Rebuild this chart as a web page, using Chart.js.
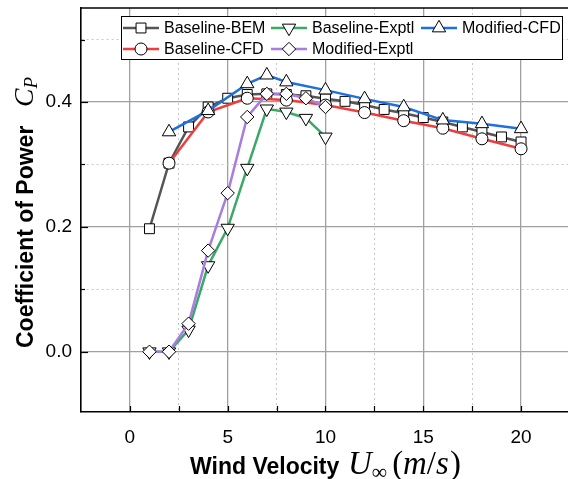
<!DOCTYPE html>
<html>
<head>
<meta charset="utf-8">
<script src="https://cdn.jsdelivr.net/npm/chart.js@4.4.0/dist/chart.umd.min.js"></script>
<style>
  body { margin: 0; background: #fff; }
  #wrap { width: 568px; height: 479px; }
</style>
</head>
<body>
<div id="wrap"><canvas id="cpChart" width="568" height="479"></canvas></div>
<script>
// wind speed (m/s) and power coefficient for each series
const bemSpeed = [1, 2, 3, 4, 5, 6, 7, 8, 9, 10, 11, 12, 13, 14, 15, 16, 17, 18, 19, 20];
const bemCp = [0.197, 0.302, 0.360, 0.392, 0.406, 0.412, 0.413, 0.412, 0.410, 0.405,
  0.401, 0.395, 0.388, 0.382, 0.375, 0.368, 0.360, 0.352, 0.344, 0.336];

const cfdSpeed = [2, 4, 6, 8, 10, 12, 14, 16, 18, 20];
const cfdCp = [0.302, 0.384, 0.406, 0.403, 0.395, 0.383, 0.370, 0.358, 0.341, 0.325];

const exptSpeed = [1, 2, 3, 4, 5, 6, 7, 8, 9, 10];
const exptCp = [0.0, 0.0, 0.035, 0.138, 0.198, 0.294, 0.389, 0.384, 0.374, 0.344];

const modExptSpeed = [1, 2, 3, 4, 5, 6, 7, 8, 9, 10];
const modExptCp = [0.0, 0.0, 0.045, 0.162, 0.254, 0.376, 0.413, 0.413, 0.406, 0.392];

const modCfdSpeed = [2, 4, 6, 7, 8, 10, 12, 14, 16, 18, 20];
const modCfdCp = [0.352, 0.386, 0.429, 0.443, 0.432, 0.419, 0.405, 0.392, 0.371, 0.365, 0.357];

const xTicks = [0, 2.5, 5, 7.5, 10, 12.5, 15, 17.5, 20];
const yTicks = [0.0, 0.1, 0.2, 0.3, 0.4, 0.5];

const FONT = '"Liberation Sans", Arial, sans-serif';
const MATH = '"Liberation Serif", "Times New Roman", serif';

function toPoints(xs, ys) {
  return xs.map((x, i) => ({ x: x, y: ys[i] }));
}

function series(label, xs, ys, color, style, radius, rotation) {
  return {
    label: label,
    data: toPoints(xs, ys),
    borderColor: color,
    borderWidth: 2.5,
    backgroundColor: color,
    pointStyle: style,
    pointRadius: radius,
    pointRotation: rotation || 0,
    pointBackgroundColor: '#fff',
    pointBorderColor: '#000',
    pointBorderWidth: 1,
    tension: 0,
    fill: false
  };
}

// first dataset is drawn on top in Chart.js
const datasets = [
  series('Modified-CFD', modCfdSpeed, modCfdCp, '#1f6fdc', 'triangle', 7.7),
  series('Modified-Exptl', modExptSpeed, modExptCp, '#a87ddf', 'rectRot', 6.7),
  series('Baseline-Exptl', exptSpeed, exptCp, '#3aa866', 'triangle', 7.7, 180),
  series('Baseline-CFD', cfdSpeed, cfdCp, '#ef3d3d', 'circle', 6),
  series('Baseline-BEM', bemSpeed, bemCp, '#555555', 'rect', 7)
];

// legend slots: column x, row y
const legendSlots = {
  'Baseline-BEM': [123, 28],
  'Baseline-CFD': [123, 49],
  'Baseline-Exptl': [271, 28],
  'Modified-Exptl': [271, 49],
  'Modified-CFD': [421, 28]
};

function isMajorX(v) { return Math.abs(v % 5) < 1e-6; }
function isMajorY(v) { return Math.round(v * 10) % 2 === 0; }

function drawLegend(ctx) {
  ctx.save();
  ctx.fillStyle = '#fff';
  ctx.fillRect(121, 16, 442, 44);
  ctx.strokeStyle = '#000';
  ctx.lineWidth = 1;
  ctx.strokeRect(121.5, 16.5, 441, 43);
  datasets.forEach((ds) => {
    const [x0, y0] = legendSlots[ds.label];
    ctx.strokeStyle = ds.borderColor;
    ctx.lineWidth = 2.5;
    ctx.beginPath();
    ctx.moveTo(x0, y0);
    ctx.lineTo(x0 + 36, y0);
    ctx.stroke();
    ctx.fillStyle = '#fff';
    ctx.strokeStyle = '#000';
    ctx.lineWidth = 1;
    Chart.helpers.drawPoint(ctx, {
      pointStyle: ds.pointStyle,
      rotation: ds.pointRotation,
      radius: ds.pointRadius,
      borderWidth: 1
    }, x0 + 18, y0);
    ctx.fillStyle = '#000';
    ctx.font = '16px ' + FONT;
    ctx.textBaseline = 'middle';
    ctx.textAlign = 'left';
    ctx.fillText(ds.label, x0 + 41, y0 + 1);
  });
  ctx.restore();
}

// pieces are [text, font, dy, size, gapAfter]
function measurePieces(ctx, pieces) {
  let w = 0;
  pieces.forEach((p) => {
    ctx.font = p[1].replace('SIZE', p[3]);
    w += ctx.measureText(p[0]).width + (p[4] || 0);
  });
  return w;
}

function drawPieces(ctx, pieces, x, y, target) {
  const scale = target / measurePieces(ctx, pieces);
  let cx = x;
  pieces.forEach((p) => {
    ctx.font = p[1].replace('SIZE', (p[3] * scale).toFixed(1));
    ctx.fillText(p[0], cx, y + p[2] * scale);
    cx += ctx.measureText(p[0]).width + (p[4] || 0) * scale;
  });
}

function drawTitles(ctx) {
  ctx.save();
  ctx.fillStyle = '#000';
  ctx.textAlign = 'left';
  ctx.textBaseline = 'alphabetic';

  // x axis title
  ctx.font = 'bold 23px ' + FONT;
  ctx.fillText('Wind Velocity', 190, 474);
  const xMath = [
    ['U', 'italic SIZEpx ' + MATH, 0, 26, 0],
    ['\u221E', 'SIZEpx ' + MATH, 4, 17, 4],
    ['(', 'SIZEpx ' + MATH, 0, 26, 0],
    ['m', 'italic SIZEpx ' + MATH, 0, 26, 0],
    ['/', 'SIZEpx ' + MATH, 0, 26, 0],
    ['s', 'italic SIZEpx ' + MATH, 0, 26, 1],
    [')', 'SIZEpx ' + MATH, 0, 26, 0]
  ];
  drawPieces(ctx, xMath, 348, 474, 113);

  // y axis title, reads bottom to top
  ctx.translate(33, 348);
  ctx.rotate(-Math.PI / 2);
  ctx.font = 'bold 23px ' + FONT;
  ctx.fillText('Coefficient of Power', 0, 0);
  const yMath = [
    ['C', 'italic SIZEpx ' + MATH, 0, 25, 0],
    ['P', 'italic SIZEpx ' + MATH, 4, 17, 0]
  ];
  drawPieces(ctx, yMath, 241, 0, 30);
  ctx.restore();
}

const framePlugin = {
  id: 'frame',
  afterDraw(chart) {
    const { ctx, chartArea: a, scales } = chart;
    ctx.save();
    ctx.strokeStyle = '#000';
    ctx.lineWidth = 1.2;
    // inward tick marks
    xTicks.forEach((v) => {
      const px = Math.round(scales.x.getPixelForValue(v)) + 0.5;
      ctx.beginPath();
      ctx.moveTo(px, a.bottom);
      ctx.lineTo(px, a.bottom - 6);
      ctx.stroke();
    });
    yTicks.forEach((v) => {
      const py = Math.round(scales.y.getPixelForValue(v)) + 0.5;
      ctx.beginPath();
      ctx.moveTo(a.left, py);
      ctx.lineTo(a.left + (isMajorY(v) ? 7 : 4), py);
      ctx.stroke();
    });
    // top spine
    ctx.lineWidth = 1.6;
    ctx.beginPath();
    ctx.moveTo(a.left, a.top);
    ctx.lineTo(a.right, a.top);
    ctx.stroke();
    ctx.restore();
    drawLegend(ctx);
    drawTitles(ctx);
  }
};

function noPad(s) {
  s.paddingLeft = 0;
  s.paddingRight = 0;
  s.paddingTop = 0;
  s.paddingBottom = 0;
}

new Chart(document.getElementById('cpChart'), {
  type: 'line',
  data: { datasets: datasets },
  plugins: [framePlugin],
  options: {
    responsive: false,
    animation: false,
    layout: { autoPadding: false, padding: { top: 8, right: 0, left: 0, bottom: 0 } },
    plugins: { legend: { display: false }, tooltip: { enabled: false } },
    scales: {
      x: {
        type: 'linear',
        min: -2.5,
        max: 22.4,
        afterBuildTicks: (s) => { s.ticks = xTicks.map((v) => ({ value: v })); },
        afterFit: (s) => { s.height = 67; noPad(s); },
        grid: {
          drawTicks: false,
          color: (c) => (c.tick && !isMajorX(c.tick.value) ? '#c8c8c8' : '#a0a0a0'),
          lineWidth: (c) => (c.tick && !isMajorX(c.tick.value) ? 1 : 1.3)
        },
        border: {
          display: true, color: '#000', width: 1.6,
          dash: (c) => (c.tick && !isMajorX(c.tick.value) ? [2, 3] : [])
        },
        ticks: {
          autoSkip: false, maxRotation: 0, padding: 14, color: '#000',
          font: { family: FONT, size: 19 },
          callback: (v) => (isMajorX(v) ? String(v) : '')
        }
      },
      y: {
        min: -0.0965,
        max: 0.5505,
        afterBuildTicks: (s) => { s.ticks = yTicks.map((v) => ({ value: v })); },
        afterFit: (s) => { s.width = 81; noPad(s); },
        grid: {
          drawTicks: false,
          color: (c) => (c.tick && !isMajorY(c.tick.value) ? '#c8c8c8' : '#a0a0a0'),
          lineWidth: (c) => (c.tick && !isMajorY(c.tick.value) ? 1 : 1.3)
        },
        border: {
          display: true, color: '#000', width: 1.6,
          dash: (c) => (c.tick && !isMajorY(c.tick.value) ? [2, 3] : [])
        },
        ticks: {
          autoSkip: false, padding: 9, color: '#000',
          font: { family: FONT, size: 19 },
          callback: (v) => (isMajorY(v) ? v.toFixed(1) : '')
        }
      }
    }
  }
});
</script>
</body>
</html>
